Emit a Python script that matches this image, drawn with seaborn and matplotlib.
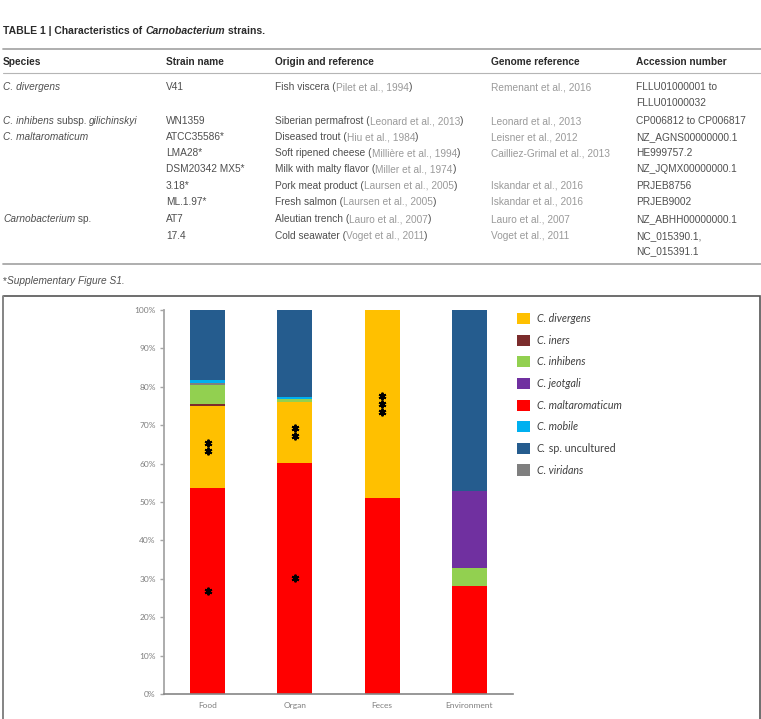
import matplotlib
matplotlib.use("Agg")
import matplotlib.pyplot as plt
from matplotlib.patches import Patch, Rectangle
import numpy as np
import seaborn as sns

W, H = 761, 719

# ---- chart data (percent of reads per origin) ----
categories = ["Food", "Organ", "Feces", "Environment"]

maltaromaticum = [53.6, 60.2, 51.0, 28.0]
divergens = [21.4, 15.9, 49.0, 0.0]
iners = [0.6, 0.0, 0.0, 0.0]
inhibens = [4.9, 0.7, 0.0, 4.7]
jeotgali = [0.0, 0.0, 0.0, 20.1]
viridans = [0.5, 0.0, 0.0, 0.0]
mobile = [0.9, 0.6, 0.0, 0.0]
uncultured = [18.1, 22.6, 0.0, 47.2]

stars_maltaromaticum = [1, 1, 0, 0]
stars_divergens = [2, 2, 3, 0]

legend_labels = ["C. divergens", "C. iners", "C. inhibens", "C. jeotgali",
                 "C. maltaromaticum", "C. mobile", "C.", "C. viridans"]
legend_colors = ["#FFC000", "#7B2C2C", "#92D050", "#7030A0",
                 "#FF0000", "#00B0F0", "#255C8E", "#7F7F7F"]

# ---- table data ----
headers = ["Species", "Strain name", "Origin and reference", "Genome reference", "Accession number"]
species = [[("C. divergens", "i")],
           [("C. inhibens", "i"), (" subsp. ", "n"), ("gilichinskyi", "i")],
           [("C. maltaromaticum", "i")],
           [], [], [], [],
           [("Carnobacterium", "i"), (" sp.", "n")],
           []]
strains = ["V41", "WN1359", "ATCC35586*", "LMA28*", "DSM20342 MX5*", "3.18*", "ML.1.97*", "AT7", "17.4"]
origins = [("Fish viscera", "Pilet et al., 1994"),
           ("Siberian permafrost", "Leonard et al., 2013"),
           ("Diseased trout", "Hiu et al., 1984"),
           ("Soft ripened cheese", "Millière et al., 1994"),
           ("Milk with malty flavor", "Miller et al., 1974"),
           ("Pork meat product", "Laursen et al., 2005"),
           ("Fresh salmon", "Laursen et al., 2005"),
           ("Aleutian trench", "Lauro et al., 2007"),
           ("Cold seawater", "Voget et al., 2011")]
genomes = ["Remenant et al., 2016", "Leonard et al., 2013", "Leisner et al., 2012",
           "Cailliez-Grimal et al., 2013", "", "Iskandar et al., 2016",
           "Iskandar et al., 2016", "Lauro et al., 2007", "Voget et al., 2011"]
accessions = [["FLLU01000001 to", "FLLU01000032"], ["CP006812 to CP006817"],
              ["NZ_AGNS00000000.1"], ["HE999757.2"], ["NZ_JQMX00000000.1"],
              ["PRJEB8756"], ["PRJEB9002"], ["NZ_ABHH00000000.1"],
              ["NC_015390.1,", "NC_015391.1"]]

row_y = [87, 121, 137, 153, 169, 186, 202, 219, 236]
col_x = [3, 166, 275, 491, 636]

sns.set_style("white")
plt.rcParams["font.family"] = ["Liberation Sans", "DejaVu Sans"]

fig = plt.figure(figsize=(W / 100, H / 100), dpi=100)

# overlay in pixel coordinates for the table
bg = fig.add_axes([0, 0, 1, 1])
bg.set_xlim(0, W)
bg.set_ylim(H, 0)
bg.axis("off")

DARK = "#4f4f4f"
LIGHT = "#9a9a9a"
FS = 7.3


def segments(x, y, parts, size=FS, weight="normal"):
    prev = None
    for txt, st in parts:
        style = "italic" if st == "i" else "normal"
        color = LIGHT if st == "l" else (DARK if weight == "normal" else "#2b2b2b")
        if prev is None:
            prev = bg.text(x, y, txt, fontsize=size, style=style, color=color,
                           weight=weight, va="center", ha="left")
        else:
            prev = bg.annotate(txt, xy=(1, 0.5), xycoords=prev, fontsize=size,
                               style=style, color=color, weight=weight,
                               va="center", ha="left")
    return prev


segments(3, 31, [("TABLE 1 | Characteristics of ", "n"), ("Carnobacterium", "i"),
                 (" strains.", "n")], size=7.5, weight="bold")
bg.plot([3, W], [49, 49], color="#a8a8a8", lw=1.3)
for x, h in zip(col_x, headers):
    bg.text(x, 62, h, fontsize=FS, weight="bold", color="#2b2b2b", va="center")
bg.plot([3, W], [73, 73], color="#b5b5b5", lw=0.8)

for i, y in enumerate(row_y):
    if species[i]:
        segments(col_x[0], y, species[i])
    bg.text(col_x[1], y, strains[i], fontsize=FS, color=DARK, va="center")
    segments(col_x[2], y, [(origins[i][0] + " (", "n"), (origins[i][1], "l"), (")", "n")])
    if genomes[i]:
        bg.text(col_x[3], y, genomes[i], fontsize=FS, color=LIGHT, va="center")
    for k, line in enumerate(accessions[i]):
        bg.text(col_x[4], y + 15.5 * k, line, fontsize=FS, color=DARK, va="center")

bg.plot([3, W], [264, 264], color="#a8a8a8", lw=1.3)
segments(3, 281, [("*", "n"), ("Supplementary Figure S1.", "i")])

# frame around the figure panel
bg.add_patch(Rectangle((3, 296), 756.5, 440, fill=False, edgecolor="#555555", lw=1.2))
bg.plot([3, 3], [296, H], color="#8a8a8a", lw=1.3)

# ---- stacked bar chart ----
ax = fig.add_axes([164 / W, 1 - 694 / H, (513 - 164) / W, (694 - 310) / H])
ax.set_facecolor("none")

layers = [maltaromaticum, divergens, iners, inhibens, jeotgali, viridans, mobile, uncultured]
layer_colors = ["#FF0000", "#FFC000", "#7B2C2C", "#92D050", "#7030A0", "#7F7F7F", "#00B0F0", "#255C8E"]
bottom = np.zeros(len(categories))
for vals, col in zip(layers, layer_colors):
    sns.barplot(x=categories, y=vals, order=categories, bottom=bottom, color=col,
                saturation=1, width=0.4, linewidth=0, ax=ax)
    bottom = bottom + np.array(vals)

# significance asterisks at segment centres
def stars(base, height, n, xi):
    mid = base + height / 2
    for k in range(n):
        ax.plot(xi, mid + (k - (n - 1) / 2) * 2.1, marker=(6, 2, 0), ms=5.5,
                mew=1.4, color="black", zorder=5)

for xi in range(len(categories)):
    stars(0, maltaromaticum[xi], stars_maltaromaticum[xi], xi)
    stars(maltaromaticum[xi], divergens[xi], stars_divergens[xi], xi)

ax.set_xlim(-0.5, 3.5)
ax.set_ylim(0, 100)
ax.set_yticks(range(0, 101, 10))
ax.set_yticklabels([f"{v}%" for v in range(0, 101, 10)])
ax.set_xlabel("")
ax.set_ylabel("")
for lab in ax.get_xticklabels() + ax.get_yticklabels():
    lab.set_family("Lato")
    lab.set_fontsize(6)
    lab.set_color("#7f7f7f")
ax.tick_params(axis="y", length=3, width=1, color="#a6a6a6", pad=3, left=True)
ax.tick_params(axis="x", length=0, pad=6)
for s in ["top", "right"]:
    ax.spines[s].set_visible(False)
ax.spines["left"].set_color("#a6a6a6")
ax.spines["left"].set_linewidth(1.3)
ax.spines["bottom"].set_color("#868686")
ax.spines["bottom"].set_linewidth(1.2)

handles = [Patch(facecolor=c, edgecolor="none") for c in legend_colors]
leg = ax.legend(handles, legend_labels, loc="upper left", frameon=False,
                bbox_to_anchor=(517 / W, 1 - 313 / H), bbox_transform=fig.transFigure,
                borderpad=0, borderaxespad=0, handlelength=1.22, handleheight=1.22,
                handletextpad=0.62, labelspacing=0.98,
                prop={"family": "Lato", "size": 7.7, "style": "italic"})
for t in leg.get_texts():
    t.set_color("#3f3f3f")
# "sp. uncultured" is set upright next to the italic "C."
ax.annotate(" sp. uncultured", xy=(1, 0.5), xycoords=leg.get_texts()[6],
            va="center", ha="left", fontsize=7.7, family="Lato", color="#3f3f3f",
            zorder=10, annotation_clip=False)

fig.savefig("out.png", dpi=100)
